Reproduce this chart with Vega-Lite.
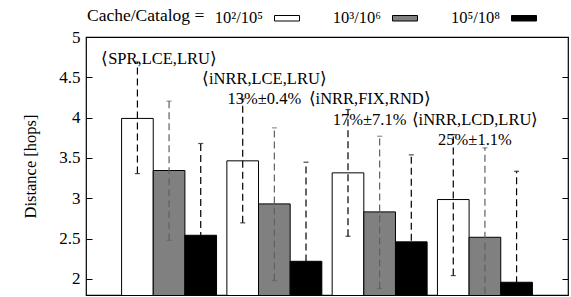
{
  "$schema": "https://vega.github.io/schema/vega-lite/v6.json",
  "autosize": {"type": "none"},
  "padding": {"left": 86, "top": 37, "right": 3, "bottom": 2},
  "width": 482,
  "height": 258,
  "background": "white",
  "config": {
    "font": "Liberation Serif",
    "view": {"stroke": "black", "strokeWidth": 1.2},
    "axis": {"labelFont": "Liberation Serif", "titleFont": "Liberation Serif", "labelColor": "black", "titleColor": "black"}
  },
  "datasets": {
    "bars": [
      {"cfg": "SPR,LCE,LRU", "size": "10²/10⁵", "dist": 3.99, "lo": 3.306, "hi": 4.69},
      {"cfg": "SPR,LCE,LRU", "size": "10³/10⁶", "dist": 3.344, "lo": 2.479, "hi": 4.204},
      {"cfg": "SPR,LCE,LRU", "size": "10⁵/10⁸", "dist": 2.541, "lo": 1.403, "hi": 3.679},
      {"cfg": "iNRR,LCE,LRU", "size": "10²/10⁵", "dist": 3.464, "lo": 2.695, "hi": 4.233},
      {"cfg": "iNRR,LCE,LRU", "size": "10³/10⁶", "dist": 2.93, "lo": 1.979, "hi": 3.873},
      {"cfg": "iNRR,LCE,LRU", "size": "10⁵/10⁸", "dist": 2.218, "lo": 0.989, "hi": 3.447},
      {"cfg": "iNRR,FIX,RND", "size": "10²/10⁵", "dist": 3.315, "lo": 2.529, "hi": 4.1},
      {"cfg": "iNRR,FIX,RND", "size": "10³/10⁶", "dist": 2.831, "lo": 1.88, "hi": 3.769},
      {"cfg": "iNRR,FIX,RND", "size": "10⁵/10⁸", "dist": 2.459, "lo": 1.38, "hi": 3.538},
      {"cfg": "iNRR,LCD,LRU", "size": "10²/10⁵", "dist": 2.984, "lo": 2.041, "hi": 3.79},
      {"cfg": "iNRR,LCD,LRU", "size": "10³/10⁶", "dist": 2.516, "lo": 1.407, "hi": 3.625},
      {"cfg": "iNRR,LCD,LRU", "size": "10⁵/10⁸", "dist": 1.958, "lo": 0.581, "hi": 3.335}
    ],
    "notes": [
      {"cfg": "SPR,LCE,LRU", "label": "⟨SPR,LCE,LRU⟩", "ypos": 4.721},
      {"cfg": "iNRR,LCE,LRU", "label": "⟨iNRR,LCE,LRU⟩", "ypos": 4.473},
      {"cfg": "iNRR,LCE,LRU", "label": "13%±0.4%", "ypos": 4.225},
      {"cfg": "iNRR,FIX,RND", "label": "⟨iNRR,FIX,RND⟩", "ypos": 4.225},
      {"cfg": "iNRR,FIX,RND", "label": "17%±7.1%", "ypos": 3.976},
      {"cfg": "iNRR,LCD,LRU", "label": "⟨iNRR,LCD,LRU⟩", "ypos": 3.976},
      {"cfg": "iNRR,LCD,LRU", "label": "25%±1.1%", "ypos": 3.728}
    ]
  },
  "resolve": {"scale": {"y": "independent"}},
  "layer": [
    {
      "data": {"name": "bars"},
      "mark": {"type": "bar", "stroke": "black", "strokeWidth": 1, "clip": true, "opacity": 1},
      "encoding": {
        "x": {"field": "cfg", "type": "nominal", "sort": null, "axis": null,
              "scale": {"paddingInner": 0.098, "paddingOuter": 0.338}},
        "xOffset": {"field": "size", "type": "nominal", "sort": null, "scale": {"paddingInner": 0, "paddingOuter": 0}},
        "y": {"field": "dist", "type": "quantitative",
              "scale": {"domain": [1.8, 5], "zero": false, "nice": false},
              "axis": {"title": "Distance [hops]", "titleFontSize": 16.5, "titleFontWeight": "normal", "titlePadding": 20,
                       "values": [2, 2.5, 3, 3.5, 4, 4.5, 5], "format": "~g", "labelFontSize": 17,
                       "tickSize": -6, "tickColor": "black", "labelPadding": 12, "grid": false, "domain": false}},
        "fill": {"field": "size", "type": "nominal", "sort": null,
                 "scale": {"range": ["white", "#808080", "black"]},
                 "legend": {
                   "title": "Cache/Catalog =", "orient": "none", "legendX": 1, "legendY": -32, "padding": 0,
                   "direction": "horizontal", "titleOrient": "left", "titleFontSize": 17.5, "titleFontWeight": "normal",
                   "titleColor": "black", "titleFont": "Liberation Serif", "titlePadding": 69, "titleBaseline": "middle",
                   "labelFont": "Liberation Serif", "labelFontSize": 16.5, "labelColor": "black",
                   "labelAlign": "right", "labelOffset": -37, "columnPadding": 30,
                   "symbolType": "M-1,-0.22H1V0.22H-1Z", "symbolSize": 625, "symbolStrokeColor": "black", "symbolStrokeWidth": 1,
                   "symbolOpacity": 1
                 }}
      }
    },
    {
      "data": {"name": "bars"},
      "mark": {"type": "rule", "strokeDash": [7, 4], "strokeWidth": 1.2, "clip": true},
      "encoding": {
        "x": {"field": "cfg", "type": "nominal", "sort": null, "bandPosition": 0.5},
        "xOffset": {"field": "size", "type": "nominal", "sort": null},
        "y": {"field": "lo", "type": "quantitative", "scale": {"domain": [1.8, 5], "zero": false, "nice": false},
              "axis": {"orient": "right", "labels": false, "title": null, "values": [2, 2.5, 3, 3.5, 4, 4.5, 5],
                       "tickSize": -6, "tickColor": "black", "grid": false, "domain": false}},
        "y2": {"field": "hi"},
        "stroke": {"field": "size", "type": "nominal", "sort": null, "scale": {"range": ["black", "#606060", "black"]}, "legend": null}
      }
    },
    {
      "data": {"name": "bars"},
      "mark": {"type": "tick", "size": 5, "thickness": 1.2, "clip": true, "orient": "horizontal"},
      "encoding": {
        "x": {"field": "cfg", "type": "nominal", "sort": null},
        "xOffset": {"field": "size", "type": "nominal", "sort": null},
        "y": {"field": "hi", "type": "quantitative", "scale": {"domain": [1.8, 5], "zero": false, "nice": false}, "axis": null},
        "color": {"field": "size", "type": "nominal", "sort": null, "scale": {"range": ["black", "#606060", "black"]}, "legend": null}
      }
    },
    {
      "data": {"name": "bars"},
      "mark": {"type": "tick", "size": 5, "thickness": 1.2, "clip": true, "orient": "horizontal"},
      "encoding": {
        "x": {"field": "cfg", "type": "nominal", "sort": null},
        "xOffset": {"field": "size", "type": "nominal", "sort": null},
        "y": {"field": "lo", "type": "quantitative", "scale": {"domain": [1.8, 5], "zero": false, "nice": false}, "axis": null},
        "color": {"field": "size", "type": "nominal", "sort": null, "scale": {"range": ["black", "#606060", "black"]}, "legend": null}
      }
    },
    {
      "data": {"name": "notes"},
      "mark": {"type": "text", "font": "Liberation Serif", "fontSize": 16.5, "color": "black", "baseline": "middle", "align": "center", "dx": -10},
      "encoding": {
        "x": {"field": "cfg", "type": "nominal", "sort": null},
        "y": {"field": "ypos", "type": "quantitative", "scale": {"domain": [1.8, 5], "zero": false, "nice": false}, "axis": null},
        "text": {"field": "label"}
      }
    }
  ]
}
